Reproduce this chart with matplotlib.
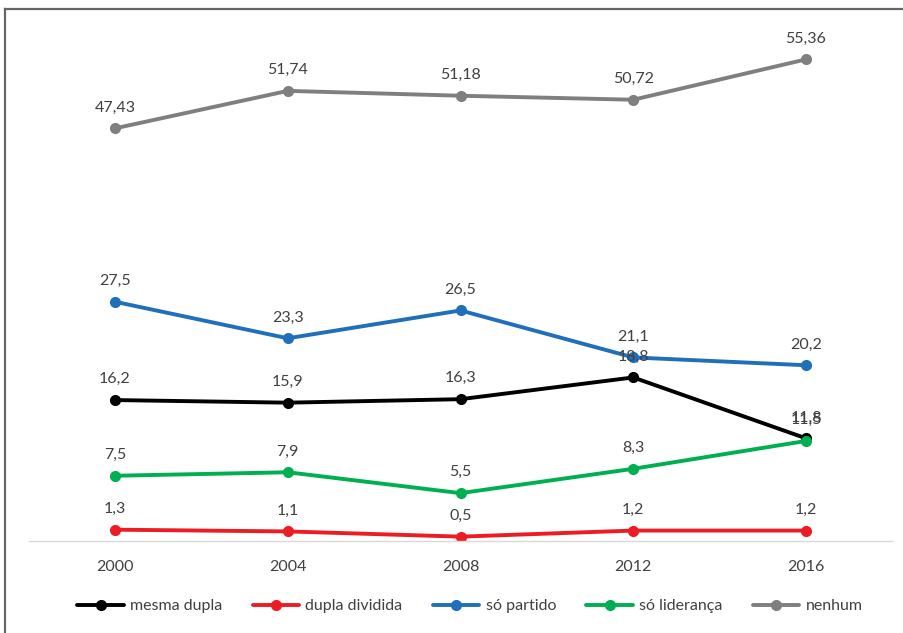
import matplotlib.pyplot as plt
from matplotlib.lines import Line2D

plt.rcParams['font.family'] = ['Lato', 'DejaVu Sans']

anos = ['2000', '2004', '2008', '2012', '2016']
mesma_dupla = [16.2, 15.9, 16.3, 18.8, 11.8]
dupla_dividida = [1.3, 1.1, 0.5, 1.2, 1.2]
so_partido = [27.5, 23.3, 26.5, 21.1, 20.2]
so_lideranca = [7.5, 7.9, 5.5, 8.3, 11.5]
nenhum = [47.43, 51.74, 51.18, 50.72, 55.36]

series = [
    ('mesma dupla', mesma_dupla, '#000000'),
    ('dupla dividida', dupla_dividida, '#ED1C24'),
    ('só partido', so_partido, '#1F6FBA'),
    ('só liderança', so_lideranca, '#00B050'),
    ('nenhum', nenhum, '#7F7F7F'),
]

W, H = 904, 633
fig = plt.figure(figsize=(W / 100, H / 100), dpi=100)
ax = fig.add_axes([28.6 / W, (H - 541) / H, 863.8 / W, 522 / H])

x = list(range(len(anos)))
for nome, vals, cor in series:
    ax.plot(x, vals, color=cor, lw=2.8, marker='o', ms=7, label=nome,
            solid_capstyle='round')
    for xi, v in zip(x, vals):
        txt = f'{v:g}'.replace('.', ',')
        ax.annotate(txt, (xi, v), xytext=(0, 15), textcoords='offset points',
                    ha='center', va='center', fontsize=11.5, color='#404040')

ax.set_xlim(-0.5, 4.5)
ax.set_ylim(0, 60)
ax.set_xticks(x)
ax.set_xticklabels(anos, fontsize=11.5, color='#404040')
ax.tick_params(axis='x', length=0, pad=14)
ax.set_yticks([])
for s in ['top', 'right', 'left']:
    ax.spines[s].set_visible(False)
ax.spines['bottom'].set_color('#D9D9D9')
ax.spines['bottom'].set_linewidth(1)

leg = fig.legend(loc='center', bbox_to_anchor=(470 / W, (H - 606) / H), ncol=5,
                 frameon=False, fontsize=11.5, handlelength=2.9,
                 columnspacing=1.9, handletextpad=0.4)
for t in leg.get_texts():
    t.set_color('#404040')

# moldura (só topo e esquerda)
fig.add_artist(Line2D([5.5 / W, 1], [1 - 8.5 / H, 1 - 8.5 / H],
                      color='#666666', lw=1.6, transform=fig.transFigure))
fig.add_artist(Line2D([5.5 / W, 5.5 / W], [0, 1 - 8.5 / H],
                      color='#666666', lw=1.6, transform=fig.transFigure))

fig.savefig('out.png', dpi=100)
